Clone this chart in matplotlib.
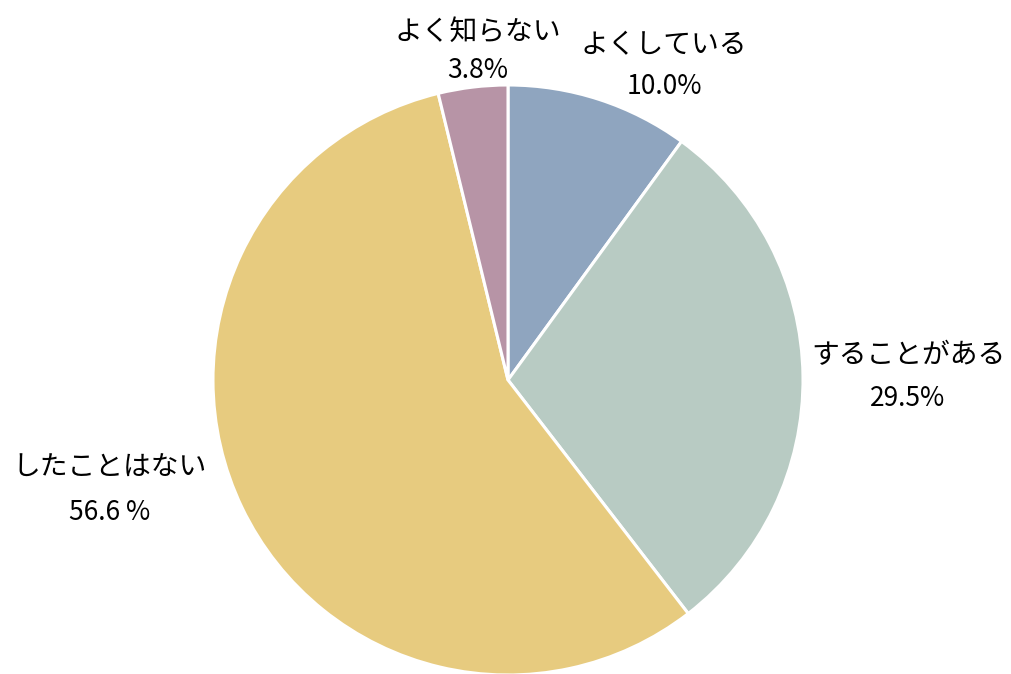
import matplotlib
matplotlib.use("Agg")
import matplotlib.pyplot as plt

categories = ["よくしている", "することがある", "したことはない", "よく知らない"]
values = [10.0, 29.5, 56.6, 3.8]
pct_labels = ["10.0%", "29.5%", "56.6 %", "3.8%"]
colors = ["#8FA5BF", "#B8CBC3", "#E7CB7F", "#B794A6"]

plt.rcParams['font.family'] = ['Noto Sans CJK JP', 'DejaVu Sans']

W, H = 1011, 674
fig = plt.figure(figsize=(W / 100, H / 100), dpi=100)
ax = fig.add_axes([0, 0, 1, 1])

cx, cy, r = 508, H - 380, 295
ax.pie(values, colors=colors, startangle=90, counterclock=False,
       center=(cx, cy), radius=r, frame=True,
       wedgeprops=dict(edgecolor='white', linewidth=2.2))
ax.set_xlim(0, W)
ax.set_ylim(0, H)
ax.set_aspect('equal')
ax.axis('off')

label_pos = [(664, 45, 87), (908, 355, 398), (110, 468, 512), (478, 32, 70)]
for cat, pct, (x, y1, y2) in zip(categories, pct_labels, label_pos):
    ax.text(x, H - y1, cat, ha='center', va='center', fontsize=20, color='black')
    ax.text(x, H - y2, pct, ha='center', va='center', fontsize=19, color='black')

fig.savefig("out.png", dpi=100)
